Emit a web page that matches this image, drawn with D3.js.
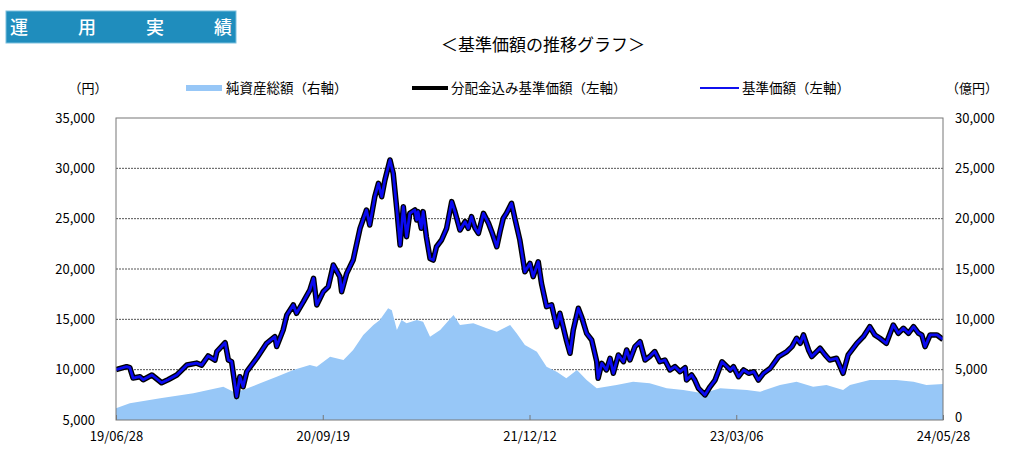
<!DOCTYPE html>
<html><head><meta charset="utf-8">
<script src="https://cdn.jsdelivr.net/npm/d3@7/dist/d3.min.js"></script>
<style>
body{margin:0;background:#fff;}
text{font-family:"Noto Sans CJK JP","Noto Sans",sans-serif;}
</style></head>
<body><svg id="c" width="1024" height="452"></svg>
<script>
// ---------- data ----------
const navDates = ["2019-06-28","2019-07-21","2019-07-28","2019-08-04","2019-08-19","2019-08-26","2019-09-14","2019-10-05","2019-10-19","2019-11-07","2019-11-29","2019-12-20","2019-12-31",
"2020-01-14","2020-01-29","2020-02-02","2020-02-20","2020-02-27","2020-03-05","2020-03-16","2020-03-23","2020-03-30","2020-04-07","2020-04-29","2020-05-20","2020-06-07","2020-06-11","2020-06-25","2020-07-03","2020-07-17","2020-07-24","2020-08-08","2020-08-22","2020-08-30","2020-09-06","2020-09-20","2020-10-01","2020-10-12","2020-10-26","2020-10-30","2020-11-10","2020-11-24","2020-12-09","2020-12-23","2020-12-30",
"2021-01-10","2021-01-18","2021-01-25","2021-02-01","2021-02-12","2021-02-19","2021-02-27","2021-03-06","2021-03-13","2021-03-20","2021-03-27","2021-04-07","2021-04-11","2021-04-14","2021-04-21","2021-04-25","2021-05-02","2021-05-10","2021-05-17","2021-05-24","2021-06-04","2021-06-15","2021-06-26","2021-07-03","2021-07-14","2021-07-25","2021-08-01","2021-08-08","2021-08-16","2021-08-23","2021-09-03","2021-09-14","2021-09-21","2021-10-02","2021-10-09","2021-10-16","2021-10-23","2021-11-03","2021-11-11","2021-11-21","2021-12-02","2021-12-13","2021-12-20","2021-12-31",
"2022-01-07","2022-01-18","2022-01-29","2022-02-09","2022-02-16","2022-03-02","2022-03-10","2022-03-17","2022-03-28","2022-04-04","2022-04-15","2022-04-26","2022-05-07","2022-05-10","2022-05-18","2022-05-28","2022-06-05","2022-06-12","2022-06-23","2022-07-04","2022-07-11","2022-07-18","2022-07-29","2022-08-09","2022-08-20","2022-08-30","2022-09-10","2022-09-21","2022-10-02","2022-10-13","2022-10-24","2022-11-04","2022-11-15","2022-11-18","2022-11-29","2022-12-06","2022-12-14","2022-12-28",
"2023-01-08","2023-01-19","2023-02-03","2023-02-14","2023-02-21","2023-02-28","2023-03-11","2023-03-22","2023-04-02","2023-04-13","2023-04-23","2023-05-04","2023-05-19","2023-06-06","2023-06-24","2023-07-05","2023-07-15","2023-07-23","2023-07-30","2023-08-10","2023-08-17","2023-09-04","2023-09-15","2023-09-25","2023-10-10","2023-10-24","2023-11-04","2023-11-23","2023-12-07","2023-12-21",
"2024-01-01","2024-01-12","2024-01-26","2024-02-10","2024-02-21","2024-03-03","2024-03-14","2024-03-25","2024-04-05","2024-04-12","2024-04-19","2024-04-30","2024-05-15","2024-05-28"];
// 基準価額 (円)
const navValues = [10000,10300,10200,9170,9300,9000,9470,8700,9000,9470,10470,10650,10450,
11360,10960,11800,12680,10960,10800,7320,9300,8300,9800,11160,12620,13280,12300,13940,15430,16430,15600,16760,17910,19080,16430,17740,18240,20400,19240,17740,19570,20890,24040,25860,24370,
27180,28510,27180,28840,30830,29500,25860,22380,26190,23210,25530,25860,24870,25700,24040,25700,23210,21050,20890,22210,22880,24040,26690,25700,23870,24700,24040,25200,24040,23540,25530,24540,23710,22210,23710,25040,25530,26530,24870,22880,19730,20560,19240,20720,
18570,16260,16430,14270,15600,12950,11630,13940,16100,15270,13610,12950,10790,9140,10630,9970,11130,9640,11460,10790,11960,10960,12290,12790,10960,11300,11800,10790,10960,9970,10300,9800,10200,8970,9470,8970,8150,7490,
8300,8970,10790,10300,9970,10300,9300,9970,9640,9800,8970,9640,10140,11300,11800,12290,13120,12620,13450,11960,11300,12130,11460,10960,11130,9640,11460,12620,13280,14270,
13450,13120,12620,14440,13610,14110,13610,14270,13610,13450,12290,13450,13450,13000];
// 分配金込み基準価額 (円) — no distributions paid, so it coincides with 基準価額
const navDistValues = navValues.slice();

const assetDates = ["2019-06-28","2019-07-28","2019-10-02","2019-12-13","2020-02-16","2020-03-09","2020-03-30","2020-05-06","2020-06-11","2020-07-17","2020-08-22","2020-09-06","2020-10-05","2020-11-03","2020-11-24","2020-12-16",
"2021-01-07","2021-01-21","2021-02-08","2021-02-16","2021-02-27","2021-03-09","2021-03-20","2021-04-11","2021-04-25","2021-05-10","2021-06-01","2021-06-30","2021-07-14","2021-08-12","2021-09-10","2021-10-02","2021-10-31","2021-11-14","2021-12-02","2021-12-28",
"2022-01-18","2022-02-09","2022-03-02","2022-03-25","2022-04-15","2022-05-07","2022-06-19","2022-07-25","2022-08-30","2022-10-06","2022-11-11","2022-12-24",
"2023-01-30","2023-03-29","2023-04-27","2023-06-09","2023-07-15","2023-08-20","2023-09-18","2023-10-24","2023-11-08","2023-12-21","2024-02-17","2024-03-25","2024-04-22","2024-05-28"];
// 純資産総額 (億円)
const assetValues = [1160,1660,2150,2650,3310,2810,2980,3640,4300,4970,5460,5300,6290,5960,6950,8440,
9440,9930,11100,10900,8940,9930,9600,9930,9770,8270,8940,10430,9440,9600,9110,8770,9440,8610,7450,6780,
5300,4800,4140,4970,3970,3150,3480,3810,3640,3150,2980,2650,
3150,2980,2810,3480,3810,3310,3480,2980,3480,3970,3970,3810,3480,3580];

const leftTicks = [5000,10000,15000,20000,25000,30000,35000];
const rightTicks = [0,5000,10000,15000,20000,25000,30000];
const xTickDates = ["2019-06-28","2020-09-19","2021-12-12","2023-03-06","2024-05-28"];
const xTickLabels = ["19/06/28","20/09/19","21/12/12","23/03/06","24/05/28"];
const legendLabels = ["純資産総額（右軸）","分配金込み基準価額（左軸）","基準価額（左軸）"];
const titleText = "＜基準価額の推移グラフ＞";
const headerChars = ["運","用","実","績"];

// ---------- chart ----------
const parse = d3.timeParse("%Y-%m-%d");
const svg = d3.select("#c");
const L = 116, R = 943, T = 118, B = 420;

const x = d3.scaleTime().domain([parse(xTickDates[0]), parse(xTickDates[xTickDates.length-1])]).range([L, R]);
const yL = d3.scaleLinear().domain([5000, 35000]).range([B, T]);
const yR = d3.scaleLinear().domain([0, 30000]).range([B, T]);
const fmt = d3.format(",");

// header
const hdr = svg.append("g");
hdr.append("rect").attr("x",6).attr("y",11).attr("width",230).attr("height",32)
  .attr("fill","#1f8dbd").attr("stroke","#7cc0de").attr("stroke-width",1);
const hx = d3.scalePoint().domain(headerChars).range([19, 223]);
hdr.selectAll("text").data(headerChars).join("text")
  .attr("x", d => hx(d)).attr("y", 34).attr("text-anchor","middle")
  .attr("fill","#fff").attr("font-size",18).attr("font-weight",500).text(d => d);

// title
svg.append("text").attr("x",543).attr("y",51).attr("text-anchor","middle")
  .attr("font-size",17).attr("fill","#000").text(titleText);

// unit labels
svg.append("text").attr("x",88).attr("y",93).attr("text-anchor","middle").attr("font-size",13).attr("fill","#000").text("（円）");
svg.append("text").attr("x",972).attr("y",93).attr("text-anchor","middle").attr("font-size",13).attr("fill","#000").text("（億円）");

// legend
const lg = svg.append("g").attr("font-size",13.5).attr("fill","#000");
lg.append("rect").attr("x",186).attr("y",85).attr("width",36).attr("height",6).attr("fill","#97c7f7");
lg.append("text").attr("x",226).attr("y",93).text(legendLabels[0]);
lg.append("line").attr("x1",412).attr("x2",448).attr("y1",88).attr("y2",88).attr("stroke","#000").attr("stroke-width",4);
lg.append("text").attr("x",451).attr("y",93).text(legendLabels[1]);
lg.append("line").attr("x1",700).attr("x2",739).attr("y1",88).attr("y2",88).attr("stroke","#1010ee").attr("stroke-width",2);
lg.append("text").attr("x",742).attr("y",93).text(legendLabels[2]);

// gridlines
svg.append("g").selectAll("line").data(leftTicks.filter(d => d > 5000 && d < 35000)).join("line")
  .attr("x1",L).attr("x2",R).attr("y1",d => yL(d)).attr("y2",d => yL(d))
  .attr("stroke","#555").attr("stroke-width",1).attr("stroke-dasharray","2,1");

// area
const assets = assetDates.map((d,i) => ({d: parse(d), v: assetValues[i]}));
svg.append("path").datum(assets)
  .attr("d", d3.area().x(d => x(d.d)).y0(B).y1(d => yR(d.v)))
  .attr("fill","#97c7f7");

// lines
const nav = navDates.map((d,i) => ({d: parse(d), v: navValues[i]}));
const navD = navDates.map((d,i) => ({d: parse(d), v: navDistValues[i]}));
svg.append("clipPath").attr("id","clp").append("rect").attr("x",L).attr("y",T-10).attr("width",R-L).attr("height",B-T+10);
const lineG = svg.append("g").attr("clip-path","url(#clp)");
const lineGen = d3.line().x(d => x(d.d)).y(d => yL(d.v));
lineG.append("path").datum(navD).attr("d", lineGen).attr("fill","none")
  .attr("stroke","#000").attr("stroke-width",5.5).attr("stroke-linejoin","round");
lineG.append("path").datum(nav).attr("d", lineGen).attr("fill","none")
  .attr("stroke","#0a0af0").attr("stroke-width",2.8).attr("stroke-linejoin","round");

// frame
svg.append("rect").attr("x",L).attr("y",T).attr("width",R-L).attr("height",B-T)
  .attr("fill","none").attr("stroke","#777").attr("stroke-width",1);

// axes
const axL = d3.axisLeft(yL).tickValues(leftTicks).tickSize(0).tickPadding(21).tickFormat(fmt);
const gL = svg.append("g").attr("transform",`translate(${L},0)`).call(axL);
const axR = d3.axisRight(yR).tickValues(rightTicks).tickSize(0).tickPadding(12).tickFormat(fmt);
const gR = svg.append("g").attr("transform",`translate(${R},0)`).call(axR);
const axB = d3.axisBottom(x).tickValues(xTickDates.map(parse)).tickSize(-5).tickPadding(12)
  .tickFormat((d,i) => xTickLabels[i]);
const gB = svg.append("g").attr("transform",`translate(0,${B})`).call(axB);
[gL,gR,gB].forEach(g => {
  g.select(".domain").remove();
  g.selectAll("text").attr("font-size",13).attr("fill","#000")
    .style("font-family",'"Noto Sans CJK JP","Noto Sans",sans-serif');
  g.selectAll("line").attr("stroke","#777");
});
gR.selectAll("text").filter(d => d === 0).attr("dy","0.15em");
</script>
</body></html>
